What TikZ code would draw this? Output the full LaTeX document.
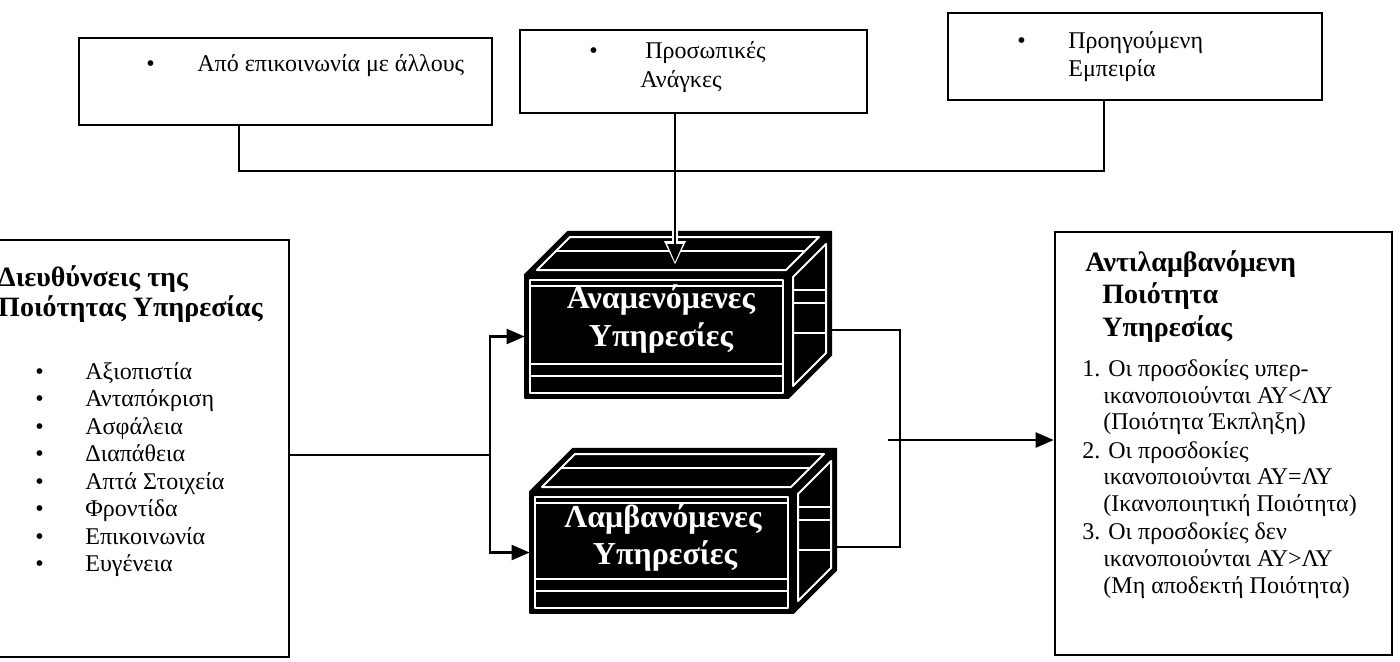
\documentclass[tikz,border=0pt]{standalone}
\usepackage{fontspec}
\setmainfont{Liberation Serif}
\usetikzlibrary{arrows.meta,fit}

\tikzset{
  boxframe/.style={draw=black, line width=1.3pt, inner sep=0pt},
  conn/.style={draw=black, line width=1.1pt},
  arrowhd/.style={-{Triangle[length=9pt,width=7.5pt]}},
  txt/.style={font=\fontsize{12}{14}\selectfont, inner sep=0pt, anchor=base west},
  ttl/.style={font=\fontsize{14}{16}\selectfont\bfseries, inner sep=0pt, anchor=base west},
  cubeface/.style={fill=black, draw=black, line width=1.2pt, line join=round},
  cubeedge/.style={draw=white, line width=1pt, line join=round},
  cubestreak/.style={draw=white, line width=0.6pt},
  cubetext/.style={font=\fontsize{16}{19}\selectfont\bfseries, inner sep=0pt, text=white},
}

% a black box in perspective: name, left, top, right, bottom of the front face
\newcommand\drawcube[5]{%
  \path[cubeface] (#2,#3) -- ({#2+43},{#3-43}) -- ({#4+43},{#3-43}) -- (#4,#3) -- cycle;
  \path[cubeface] (#4,#3) -- ({#4+43},{#3-43}) -- ({#4+43},{#5-43}) -- (#4,#5) -- cycle;
  \path[cubeface] (#2,#3) rectangle (#4,#5);
  % white inner rims
  \path[cubeedge] ({#2+12},{#3-5}) -- ({#2+45},{#3-38}) -- ({#4+31},{#3-38}) -- ({#4-2},{#3-5}) -- cycle;
  \path[cubeedge] ({#4+5},{#3+2}) -- ({#4+38},{#3-31}) -- ({#4+38},{#5-45}) -- ({#4+5},{#5-12}) -- cycle;
  \path[cubeedge] ({#2+5},{#3+5}) rectangle ({#4-5},{#5-5});
  % thin white streaks
  \path[cubestreak] ({#2+30},{#3-24}) -- ({#4+16},{#3-24});
  \path[cubestreak] ({#4+5},{#3+15}) -- ({#4+38},{#3+15});
  \path[cubestreak] ({#4+5},{#3+28}) -- ({#4+38},{#3+28});
  \path[cubestreak] ({#4+5},{#3+58}) -- ({#4+38},{#3+58});
  \path[cubestreak] ({#2+5},{#3+11}) -- ({#4-5},{#3+11});
  \path[cubestreak] ({#2+5},{#5-34}) -- ({#4-5},{#5-34});
  \path[cubestreak] ({#2+5},{#5-22}) -- ({#4-5},{#5-22});
  \node[inner sep=0pt, fit={(#2,#3) (#4,#5)}] (#1) {};
}

\begin{document}
\begin{tikzpicture}[x=0.5pt,y=-0.5pt]
\useasboundingbox (0,0) rectangle (1400,661);
\clip (0,0) rectangle (1400,661);
\fill[white] (0,0) rectangle (1400,661);

% sources of expectation
\node[boxframe, fit={(79,38) (492,125)}] (src1) {};
\node[boxframe, fit={(520,30) (867,113)}] (src2) {};
\node[boxframe, fit={(948,13) (1322,100)}] (src3) {};

\node[txt] (b1) at (146,71) {•};
\node[txt] (s1) at (197,71) {Από επικοινωνία με άλλους};
\node[txt] (b2) at (589,58) {•};
\node[txt] (s2a) at (645,58) {Προσωπικές};
\node[txt] (s2b) at (640,87) {Ανάγκες};
\node[txt] (b3) at (1017,48) {•};
\node[txt] (s3a) at (1068,48) {Προηγούμενη};
\node[txt] (s3b) at (1068,76) {Εμπειρία};

% collecting line
\coordinate (busL) at (239,171);
\coordinate (busR) at (1104,171);
\coordinate (Atop) at (675,262);
\coordinate (haloS) at (675,226);
\coordinate (haloE) at (675,265);
\draw[conn] (src1.south -| busL) -- (busL) -- (busR) -- (src3.south -| busR);

% dimensions box
\node[boxframe, fit={(-20,240) (289,657)}] (dims) {};
\node[ttl, anchor=base east] (t2) at (263,316) {Ποιότητας Υπηρεσίας};
\node[ttl] (t1) at ([yshift=15pt]t2.base west) {Διευθύνσεις της};
\foreach \n/\y/\w in {1/379/Αξιοπιστία, 2/406/Ανταπόκριση, 3/434/Ασφάλεια, 4/461/Διαπάθεια,
                      5/489/Απτά Στοιχεία, 6/516/Φροντίδα, 7/544/Επικοινωνία, 8/571/Ευγένεια}{
  \node[txt] (db\n) at (35,\y) {•};
  \node[txt] (d\n) at (85,\y) {\w};
}

% expected and received service
\drawcube{A}{525}{275}{788}{398}
\drawcube{B}{530}{492}{793}{613}
\node[cubetext] (A1) at (661,300) {Αναμενόμενες};
\node[cubetext] (A2) at (661,338) {Υπηρεσίες};
\node[cubetext] (B1) at (663,519) {Λαμβανόμενες};
\node[cubetext] (B2) at (665,556) {Υπηρεσίες};

\draw[draw=white, line width=3.2pt, -{Triangle[length=12pt,width=10pt]}] (haloS) -- (haloE);
\draw[conn, arrowhd] (src2.south -| Atop) -- (Atop);

\coordinate (split) at (490,455);
\draw[conn] (dims.east |- split) -- (split);
\draw[conn, arrowhd] (split) |- (A.west);
\draw[conn, arrowhd] (split) |- (B.west);

% perceived quality box
\node[boxframe, fit={(1055,232) (1392,655)}] (perc) {};
\node[ttl] (p1) at (1085,271) {Αντιλαμβανόμενη};
\node[ttl] (p2) at (1102,303) {Ποιότητα};
\node[ttl] (p3) at (1102,336) {Υπηρεσίας};
\node[txt] (q1) at (1082,376) {1. Οι προσδοκίες υπερ-};
\node[txt] (q2) at (1103,403) {ικανοποιούνται ΑΥ<ΛΥ};
\node[txt] (q3) at (1103,429) {(Ποιότητα Έκπληξη)};
\node[txt] (q4) at (1082,458) {2. Οι προσδοκίες};
\node[txt] (q5) at (1103,484) {ικανοποιούνται ΑΥ=ΛΥ};
\node[txt] (q6) at (1103,511) {(Ικανοποιητική Ποιότητα)};
\node[txt] (q7) at (1082,539) {3. Οι προσδοκίες δεν};
\node[txt] (q8) at (1103,566) {ικανοποιούνται ΑΥ>ΛΥ};
\node[txt] (q9) at (1103,593) {(Μη αποδεκτή Ποιότητα)};

\coordinate (Aside) at (831,330);
\coordinate (Bside) at (836,547);
\coordinate (join) at (900,440);
\coordinate (jstart) at (888,440);
\draw[conn] (Aside) -| (join) |- (Bside);
\draw[conn, arrowhd] (jstart) -- (perc.west |- jstart);
\end{tikzpicture}
\end{document}
